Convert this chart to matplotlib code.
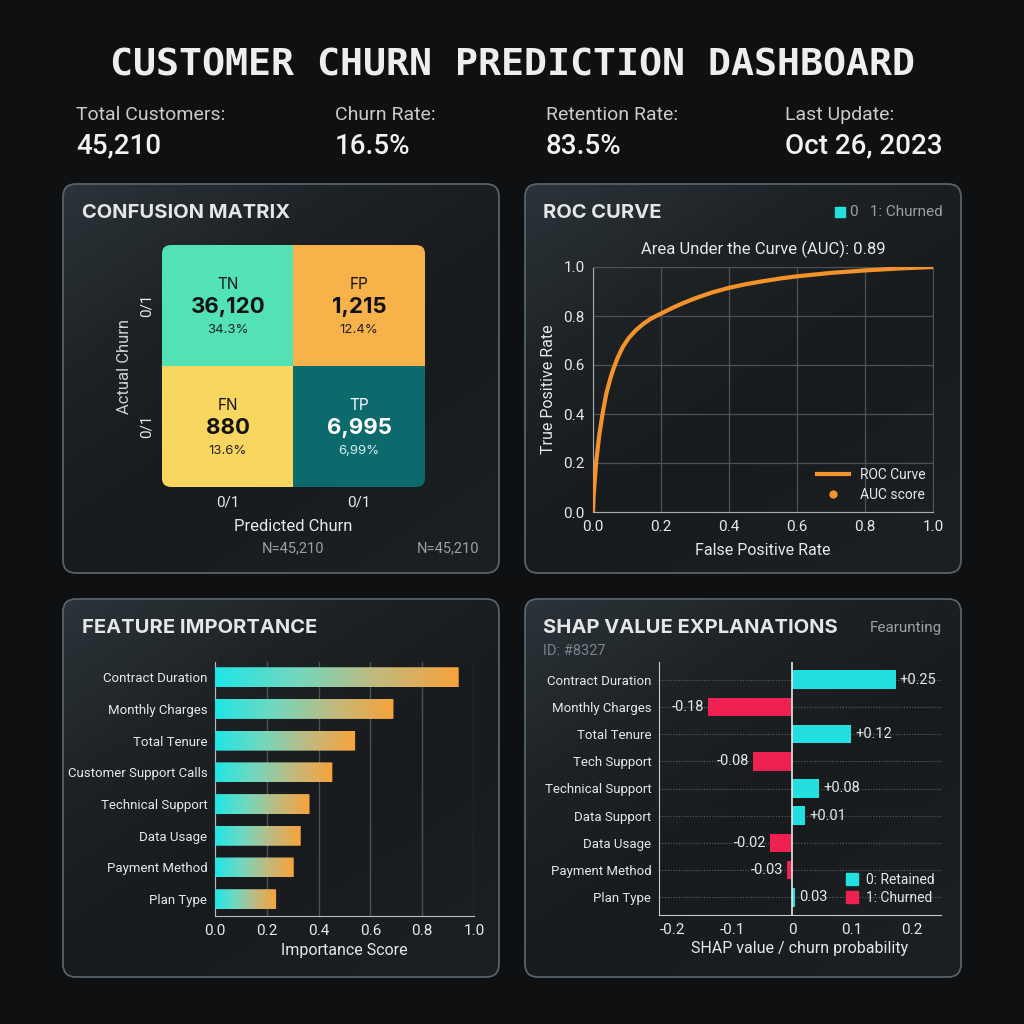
import matplotlib
matplotlib.use("Agg")
import matplotlib.pyplot as plt
import numpy as np
from matplotlib.patches import FancyBboxPatch
from matplotlib.colors import LinearSegmentedColormap, to_rgb
from matplotlib.lines import Line2D

plt.rcParams['font.family'] = ['Roboto', 'DejaVu Sans']

# ---- data ----
kpi_labels = ["Total Customers:", "Churn Rate:", "Retention Rate:", "Last Update:"]
kpi_values = ["45,210", "16.5%", "83.5%", "Oct 26, 2023"]

cm_names = [["TN", "FP"], ["FN", "TP"]]
cm_counts = [["36,120", "1,215"], ["880", "6,995"]]
cm_pcts = [["34.3%", "12.4%"], ["13.6%", "6,99%"]]
cm_colors = [["#52e2b6", "#f8b24a"], ["#f8d660", "#0d6a6c"]]
cm_ticks = ["0/1", "0/1"]

fpr = [0.0, 0.002, 0.009, 0.018, 0.028, 0.039, 0.05, 0.059, 0.072, 0.087,
       0.105, 0.126, 0.15, 0.17, 0.2, 0.235, 0.264, 0.3, 0.35, 0.4, 0.45,
       0.5, 0.55, 0.6, 0.7, 0.8, 0.9, 1.0]
tpr = [0.0, 0.07, 0.2, 0.31, 0.4, 0.482, 0.54, 0.58, 0.628, 0.672,
       0.71, 0.742, 0.77, 0.789, 0.81, 0.834, 0.852, 0.872, 0.896, 0.915, 0.93,
       0.942, 0.953, 0.962, 0.976, 0.986, 0.994, 1.0]
auc_text = "Area Under the Curve (AUC): 0.89"

fi_features = ["Contract Duration", "Monthly Charges", "Total Tenure",
               "Customer Support Calls", "Technical Support", "Data Usage",
               "Payment Method", "Plan Type"]
fi_scores = [0.941, 0.689, 0.541, 0.453, 0.365, 0.331, 0.304, 0.236]

shap_features = ["Contract Duration", "Monthly Charges", "Total Tenure",
                 "Tech Support", "Technical Support", "Data Support",
                 "Data Usage", "Payment Method", "Plan Type"]
shap_values = [0.173, -0.141, 0.098, -0.065, 0.045, 0.021, -0.037, -0.008, 0.005]
shap_labels = ["+0.25", "-0.18", "+0.12", "-0.08", "+0.08", "+0.01",
               "-0.02", "-0.03", "0.03"]

BG = "#0f1011"
TXT = "#e6e8ea"
GRAY = "#9aa0a6"
CYAN = "#22dfe0"
RED = "#ee2150"
ORANGE = "#f5922a"
INTER = ["Inter", "DejaVu Sans"]

W = 1024
fig = plt.figure(figsize=(10.24, 10.24), dpi=100, facecolor=BG)


def px_axes(x0, y0, x1, y1, z=2):
    return fig.add_axes([x0 / W, 1 - y1 / W, (x1 - x0) / W, (y1 - y0) / W], zorder=z)


# background layer in pixel coords
bg = fig.add_axes([0, 0, 1, 1], zorder=0)
bg.set_xlim(0, W)
bg.set_ylim(W, 0)
bg.axis("off")

# panels with a soft diagonal gradient
panels = [(63, 184, 499, 573), (525, 184, 961, 573),
          (63, 599, 499, 977), (525, 599, 961, 977)]
grad_cmap = LinearSegmentedColormap.from_list("pg", ["#2c3439", "#1d2225", "#181b1e", "#1b1f22"])
gx, gy = np.meshgrid(np.linspace(0, 1, 120), np.linspace(0, 1, 120))
grad = np.clip(0.6 * gx + 0.8 * gy, 0, 1.2) / 1.2
for (x0, y0, x1, y1) in panels:
    box = FancyBboxPatch((x0, y0), x1 - x0, y1 - y0,
                         boxstyle="round,pad=0,rounding_size=13",
                         facecolor="#1b1f22", edgecolor="none", zorder=1)
    bg.add_patch(box)
    im = bg.imshow(grad, cmap=grad_cmap, extent=(x0, x1, y1, y0), zorder=1.5,
                   aspect="auto", interpolation="bicubic")
    im.set_clip_path(box)
    bg.add_patch(FancyBboxPatch((x0, y0), x1 - x0, y1 - y0,
                                boxstyle="round,pad=0,rounding_size=13",
                                facecolor="none", edgecolor="#56626c", lw=1.3, zorder=2))
bg.set_xlim(0, W)
bg.set_ylim(W, 0)

# header
bg.text(512, 66, "CUSTOMER CHURN PREDICTION DASHBOARD", ha="center", va="center",
        fontsize=27.5, fontweight="bold", family="DejaVu Sans Mono", color="#eeeeee")
kpi_x = [76, 335, 546, 785]
for x, lab, val in zip(kpi_x, kpi_labels, kpi_values):
    bg.text(x, 115, lab, ha="left", va="center", fontsize=14, color="#c9cbcd")
    bg.text(x, 146, val, ha="left", va="center", fontsize=20, color="#f3f3f3",
            fontweight="medium")

# panel titles
for x, y, t in [(82, 213, "CONFUSION MATRIX"), (543, 213, "ROC CURVE"),
                (82, 628, "FEATURE IMPORTANCE"), (543, 628, "SHAP VALUE EXPLANATIONS")]:
    bg.text(x, y, t, ha="left", va="center", fontsize=14.5, fontweight="bold",
            color="#e4e7ea", family=INTER)

# ---------- confusion matrix ----------
ax1 = px_axes(162, 245, 425, 487)
ax1.set_facecolor("none")
rgb = np.array([[to_rgb(c) for c in row] for row in cm_colors])
im = ax1.imshow(rgb, extent=(-0.5, 1.5, 1.5, -0.5), aspect="auto")
clip = FancyBboxPatch((-0.5, -0.5), 2, 2, boxstyle="round,pad=0,rounding_size=0.07",
                      transform=ax1.transData, facecolor="none", edgecolor="none")
ax1.add_patch(clip)
im.set_clip_path(clip)
for r in range(2):
    for c in range(2):
        col = "white" if cm_colors[r][c] == "#0d6a6c" else "#111111"
        sub = "#d8eeee" if col == "white" else "#222222"
        ax1.text(c, r - 0.17, cm_names[r][c], ha="center", va="center", fontsize=11,
                 color=col, family=INTER)
        ax1.text(c, r + 0.01, cm_counts[r][c], ha="center", va="center", fontsize=16,
                 fontweight="bold", color=col, family=INTER)
        ax1.text(c, r + 0.2, cm_pcts[r][c], ha="center", va="center", fontsize=9.5,
                 color=sub, family=INTER)
ax1.set_xlim(-0.5, 1.5)
ax1.set_ylim(1.5, -0.5)
ax1.set_xticks([0, 1], cm_ticks)
ax1.set_yticks([0, 1], cm_ticks, rotation=90, va="center")
ax1.tick_params(length=0, colors=TXT, labelsize=11, pad=6)
for s in ax1.spines.values():
    s.set_visible(False)
ax1.set_xlabel("Predicted Churn", color=TXT, fontsize=12, labelpad=7)
ax1.set_ylabel("Actual Churn", color="#cfd2d5", fontsize=12, labelpad=5.5)
bg.text(293, 548, "N=45,210", ha="center", va="center", fontsize=10.5, color=GRAY)
bg.text(448, 548, "N=45,210", ha="center", va="center", fontsize=10.5, color=GRAY)

# ---------- ROC curve ----------
ax2 = px_axes(593, 267, 933, 512)
ax2.set_facecolor("none")
ax2.plot(fpr, tpr, color=ORANGE, lw=3, solid_capstyle="round",
         solid_joinstyle="round", zorder=3)
ax2.set_xlim(0, 1)
ax2.set_ylim(0, 1)
ax2.set_xticks(np.arange(0, 1.01, 0.2))
ax2.set_yticks(np.arange(0, 1.01, 0.2))
ax2.grid(True, color="#4c5257", lw=0.9)
ax2.tick_params(length=0, colors=TXT, labelsize=11, pad=6)
for k, s in ax2.spines.items():
    s.set_color("#4c5257" if k in ("top", "right") else "#a9adb1")
ax2.set_xlabel("False Positive Rate", color=TXT, fontsize=11.5, labelpad=6)
ax2.set_ylabel("True Positive Rate", color=TXT, fontsize=11.5, labelpad=5)
ax2.set_title(auc_text, color=TXT, fontsize=12, pad=9)
h = [Line2D([], [], color=ORANGE, lw=3),
     Line2D([], [], color=ORANGE, marker="o", ls="none", markersize=5)]
ax2.legend(h, ["ROC Curve", "AUC score"], loc="lower right", frameon=False,
           fontsize=10, labelcolor=TXT, handlelength=2.3, labelspacing=0.45,
           bbox_to_anchor=(1.015, -0.01))
bg.scatter([840], [212], s=55, marker="s", color=CYAN, zorder=5)
bg.text(850, 212, "0   1: Churned", ha="left", va="center", fontsize=11, color=GRAY)

# ---------- feature importance ----------
ax3 = px_axes(215, 662, 474, 916)
ax3.set_facecolor("none")
bar_cmap = LinearSegmentedColormap.from_list(
    "fi", ["#1fe6e6", "#72d8bf", "#c2b97e", "#f7a33a"])
gline = np.linspace(0, 1, 256).reshape(1, -1)
bh = 0.63
for i, v in enumerate(fi_scores):
    b = FancyBboxPatch((0, i - bh / 2), v, bh, boxstyle="round,pad=0,rounding_size=0.01",
                       transform=ax3.transData, facecolor="none", edgecolor="none")
    ax3.add_patch(b)
    gi = ax3.imshow(gline, cmap=bar_cmap, extent=(0, v, i + bh / 2, i - bh / 2),
                    aspect="auto", zorder=3)
    gi.set_clip_path(b)
ax3.set_xlim(0, 1)
ax3.set_ylim(len(fi_scores) - 0.47, -0.48)
ax3.set_yticks(range(len(fi_features)), fi_features)
ax3.set_xticks(np.arange(0, 1.01, 0.2))
ax3.xaxis.grid(True, color="#4a5055", lw=1)
ax3.set_axisbelow(True)
ax3.tick_params(length=0, colors=TXT, labelsize=10)
ax3.tick_params(axis="y", labelsize=9.5, pad=5.5)
ax3.tick_params(axis="x", labelsize=11, pad=6)
for k, s in ax3.spines.items():
    s.set_visible(k in ("left", "bottom"))
    s.set_color("#b8bcc0")
ax3.set_xlabel("Importance Score", color=TXT, fontsize=11.5, labelpad=3)

# ---------- SHAP ----------
bg.text(942, 628, "Fearunting", ha="right", va="center", fontsize=11, color=GRAY)
bg.text(543, 651, "ID: #8327", ha="left", va="center", fontsize=10.5, color="#7d8388")
ax4 = px_axes(659, 662, 941, 915)
ax4.set_facecolor("none")
ypos = np.arange(len(shap_values))
cols = [CYAN if v > 0 else RED for v in shap_values]
ax4.barh(ypos, shap_values, height=0.69, color=cols, zorder=3)
for y in ypos:
    ax4.axhline(y, color="#5a6066", lw=0.8, ls=(0, (1, 1.5)), zorder=1)
ax4.axvline(0, color="#e8e8e8", lw=1.2, zorder=4)
for y, v, lab in zip(ypos, shap_values, shap_labels):
    if v > 0:
        ax4.text(v + 0.007, y, lab, ha="left", va="center", fontsize=10.5, color=TXT, zorder=5)
    else:
        ax4.text(v - 0.007, y, lab, ha="right", va="center", fontsize=10.5, color=TXT, zorder=5)
ax4.set_xlim(-0.223, 0.249)
ax4.set_ylim(len(shap_values) - 0.35, -0.65)
ax4.set_yticks(ypos, shap_features)
ax4.set_xticks([-0.2, -0.1, 0, 0.1, 0.2], ["-0.2", "-0.1", "0", "0.1", "0.2"])
ax4.tick_params(length=0, colors=TXT)
ax4.tick_params(axis="y", labelsize=9.5, pad=5.5)
ax4.tick_params(axis="x", labelsize=11, pad=6)
for k, s in ax4.spines.items():
    s.set_visible(k in ("left", "bottom"))
    s.set_color("#c8cbce")
ax4.set_xlabel("SHAP value / churn probability", color=TXT, fontsize=11.5, labelpad=3)
h4 = [Line2D([], [], color=CYAN, marker="s", ls="none", markersize=8),
      Line2D([], [], color=RED, marker="s", ls="none", markersize=8)]
ax4.legend(h4, ["0: Retained", "1: Churned"], loc="lower right", frameon=False,
           fontsize=10, labelcolor=TXT, handletextpad=0.5, handlelength=1.0,
           labelspacing=0.3, bbox_to_anchor=(1.02, -0.01))

fig.savefig("out.png", dpi=100, facecolor=BG)
